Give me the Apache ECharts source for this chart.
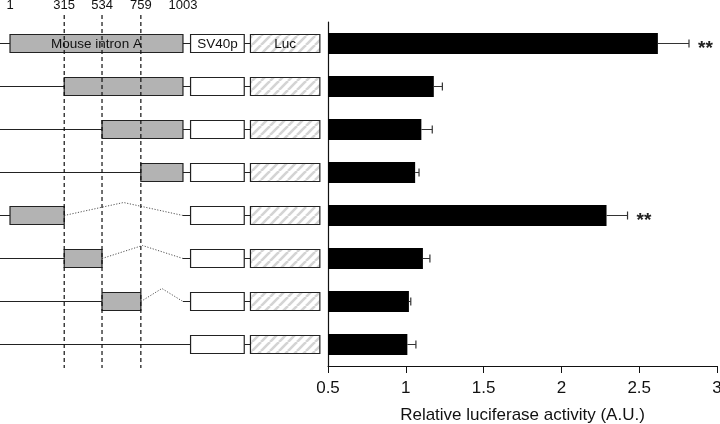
<!DOCTYPE html>
<html><head><meta charset="utf-8">
<script src="https://cdn.jsdelivr.net/npm/echarts@6/dist/echarts.min.js"></script>
<style>html,body{margin:0;padding:0;background:#fff}#c{width:720px;height:424px}</style>
</head><body><div id="c"></div>
<script>
// ---------- data ----------
const constructs = ['1-1003','315-1003','534-1003','759-1003','1-315','315-534','534-759','none'];
const activity    = [2.62, 1.18, 1.10, 1.06, 2.29, 1.11, 1.02, 1.01];
const activityErr = [0.20, 0.055, 0.07, 0.025, 0.135, 0.045, 0.012, 0.055];
const significance = ['**', '', '', '', '**', '', '', ''];
const siteLabels = ['1', '315', '534', '759', '1003'];
const sitePositions = [1, 315, 534, 759, 1003];
const dashedSites = [315, 534, 759];
const intronStart = [1, 315, 534, 759, 1, 315, 534, null];
const intronEnd   = [1003, 1003, 1003, 1003, 315, 534, 759, null];
const hasDeletion = [false, false, false, false, true, true, true, false];
const intronFullEnd = 1003;
const sv40Region = [1047, 1358];
const lucRegion  = [1394, 1796];
const partNames = ['Mouse intron A', 'SV40p', 'Luc'];
const xTickLabels = ['0.5', '1', '1.5', '2', '2.5', '3'];

// ---------- styles ----------
const FONT = '"Liberation Sans", Arial, sans-serif';
const BOX_H = 18;
const hatch = (function () {
  const s = 9, c = document.createElement('canvas');
  c.width = s; c.height = s;
  const g = c.getContext('2d');
  g.fillStyle = '#fff'; g.fillRect(0, 0, s, s);
  g.strokeStyle = '#d4d4d4'; g.lineWidth = 2.6;
  for (const k of [-s, 0, s]) { g.beginPath(); g.moveTo(k, s); g.lineTo(k + s, 0); g.stroke(); }
  return { image: c, repeat: 'repeat' };
})();

const chart = echarts.init(document.getElementById('c'), null, { renderer: 'canvas' });

function diagramItem(params, api) {
  const i = api.value(0);
  const row = i + 1;
  const cs = params.coordSys;
  const cy = api.coord([0, row])[1];
  const X = v => api.coord([v, row])[0];
  const ch = [];
  const lineStyle = { stroke: '#222', lineWidth: 1 };
  const rect = (a, b, fill) => ({
    type: 'rect',
    shape: { x: X(a), y: cy - BOX_H / 2, width: X(b) - X(a), height: BOX_H },
    style: { fill: fill, stroke: '#222', lineWidth: 1.2 }
  });
  const s = intronStart[i], e = intronEnd[i];
  if (s !== null) {
    ch.push({ type: 'line', shape: { x1: cs.x, y1: cy, x2: X(s), y2: cy }, style: lineStyle });
    if (hasDeletion[i]) {
      const mid = (e + intronFullEnd) / 2;
      ch.push({ type: 'polyline', shape: { points: [[X(e), cy], [X(mid), cy - 13], [X(intronFullEnd), cy]] },
        style: { stroke: '#555', lineWidth: 1, lineDash: [1.2, 1.6], fill: null } });
    }
    ch.push({ type: 'line', shape: { x1: X(intronFullEnd), y1: cy, x2: X(sv40Region[0]), y2: cy }, style: lineStyle });
    ch.push(rect(s, e, '#b3b3b3'));
  } else {
    ch.push({ type: 'line', shape: { x1: cs.x, y1: cy, x2: X(sv40Region[0]), y2: cy }, style: lineStyle });
  }
  ch.push({ type: 'line', shape: { x1: X(sv40Region[1]), y1: cy, x2: X(lucRegion[0]), y2: cy }, style: lineStyle });
  ch.push(rect(sv40Region[0], sv40Region[1], '#fff'));
  ch.push(rect(lucRegion[0], lucRegion[1], hatch));
  if (i === 0) {
    const txt = (a, b, t) => ({ type: 'text', style: { text: t, x: (X(a) + X(b)) / 2, y: cy + 0.5,
      align: 'center', verticalAlign: 'middle', font: '13.5px ' + FONT, fill: '#111' } });
    ch.push(txt(s, e, partNames[0]));
    ch.push(txt(sv40Region[0], sv40Region[1], partNames[1]));
    ch.push(txt(lucRegion[0], lucRegion[1], partNames[2]));
  }
  return { type: 'group', children: ch };
}

function dashedItem(params, api) {
  const cs = params.coordSys;
  const x = api.coord([api.value(0), 1])[0];
  return { type: 'line', shape: { x1: x, y1: cs.y - 7, x2: x, y2: cs.y + cs.height + 2 },
    style: { stroke: '#111', lineWidth: 1.2, lineDash: [4, 3] } };
}

function errItem(params, api) {
  const v = api.value(0), err = api.value(1), idx = api.value(2);
  const p0 = api.coord([v, idx]);
  const p1 = api.coord([v + err, idx]);
  const ch = [
    { type: 'line', shape: { x1: p0[0], y1: p0[1], x2: p1[0], y2: p1[1] }, style: { stroke: '#333', lineWidth: 1 } },
    { type: 'line', shape: { x1: p1[0], y1: p1[1] - 4, x2: p1[0], y2: p1[1] + 4 }, style: { stroke: '#333', lineWidth: 1.2 } }
  ];
  const sig = significance[idx];
  if (sig) ch.push({ type: 'text', style: { text: sig, x: p1[0] + 9, y: p1[1] + 5, align: 'left',
    verticalAlign: 'middle', font: 'bold 19px ' + FONT, fill: '#222' } });
  return { type: 'group', children: ch };
}

chart.setOption({
  backgroundColor: '#fff',
  animation: false,
  grid: [
    { left: 0, width: 329, top: 22, bottom: 58, outerBoundsMode: 'none', containLabel: false },
    { left: 328, right: 3, top: 22, bottom: 58, outerBoundsMode: 'none', containLabel: false }
  ],
  xAxis: [
    { gridIndex: 0, type: 'value', min: -57, max: 1849, position: 'top',
      axisLine: { show: false }, axisTick: { show: false }, splitLine: { show: false },
      axisLabel: { customValues: sitePositions, formatter: (v) => siteLabels[sitePositions.indexOf(v)],
        margin: 10.5, fontSize: 13, fontFamily: FONT, color: '#111' } },
    { gridIndex: 1, type: 'value', min: 0.5, max: 3, interval: 0.5,
      axisLine: { show: true, onZero: false, lineStyle: { color: '#111', width: 1 } },
      axisTick: { show: true, length: 7, lineStyle: { color: '#111' } },
      splitLine: { show: false },
      axisLabel: { margin: 14, fontSize: 17, fontFamily: FONT, color: '#111',
        formatter: (v, idx) => xTickLabels[idx] },
      name: 'Relative luciferase activity (A.U.)', nameLocation: 'middle', nameGap: 40.5,
      nameTextStyle: { fontSize: 17, fontFamily: FONT, color: '#111' } }
  ],
  yAxis: [
    { gridIndex: 0, type: 'value', min: 0.5, max: 8.5, inverse: true, show: false },
    { gridIndex: 1, type: 'category', data: constructs, inverse: true,
      axisLine: { show: true, lineStyle: { color: '#111', width: 1.2 } }, axisTick: { show: false }, axisLabel: { show: false } }
  ],
  series: [
    { type: 'custom', xAxisIndex: 0, yAxisIndex: 0, renderItem: diagramItem,
      data: constructs.map((c, i) => [i]), clip: false, silent: true },
    { type: 'custom', xAxisIndex: 0, yAxisIndex: 0, renderItem: dashedItem,
      data: dashedSites.map(v => [v]), clip: false, silent: true, z: 5 },
    { type: 'bar', xAxisIndex: 1, yAxisIndex: 1, data: activity, barWidth: 21,
      itemStyle: { color: '#000' }, clip: true, silent: true },
    { type: 'custom', xAxisIndex: 1, yAxisIndex: 1, renderItem: errItem,
      data: activity.map((v, i) => [v, activityErr[i], i]), clip: false, silent: true, z: 3 }
  ]
});
</script>
</body></html>
